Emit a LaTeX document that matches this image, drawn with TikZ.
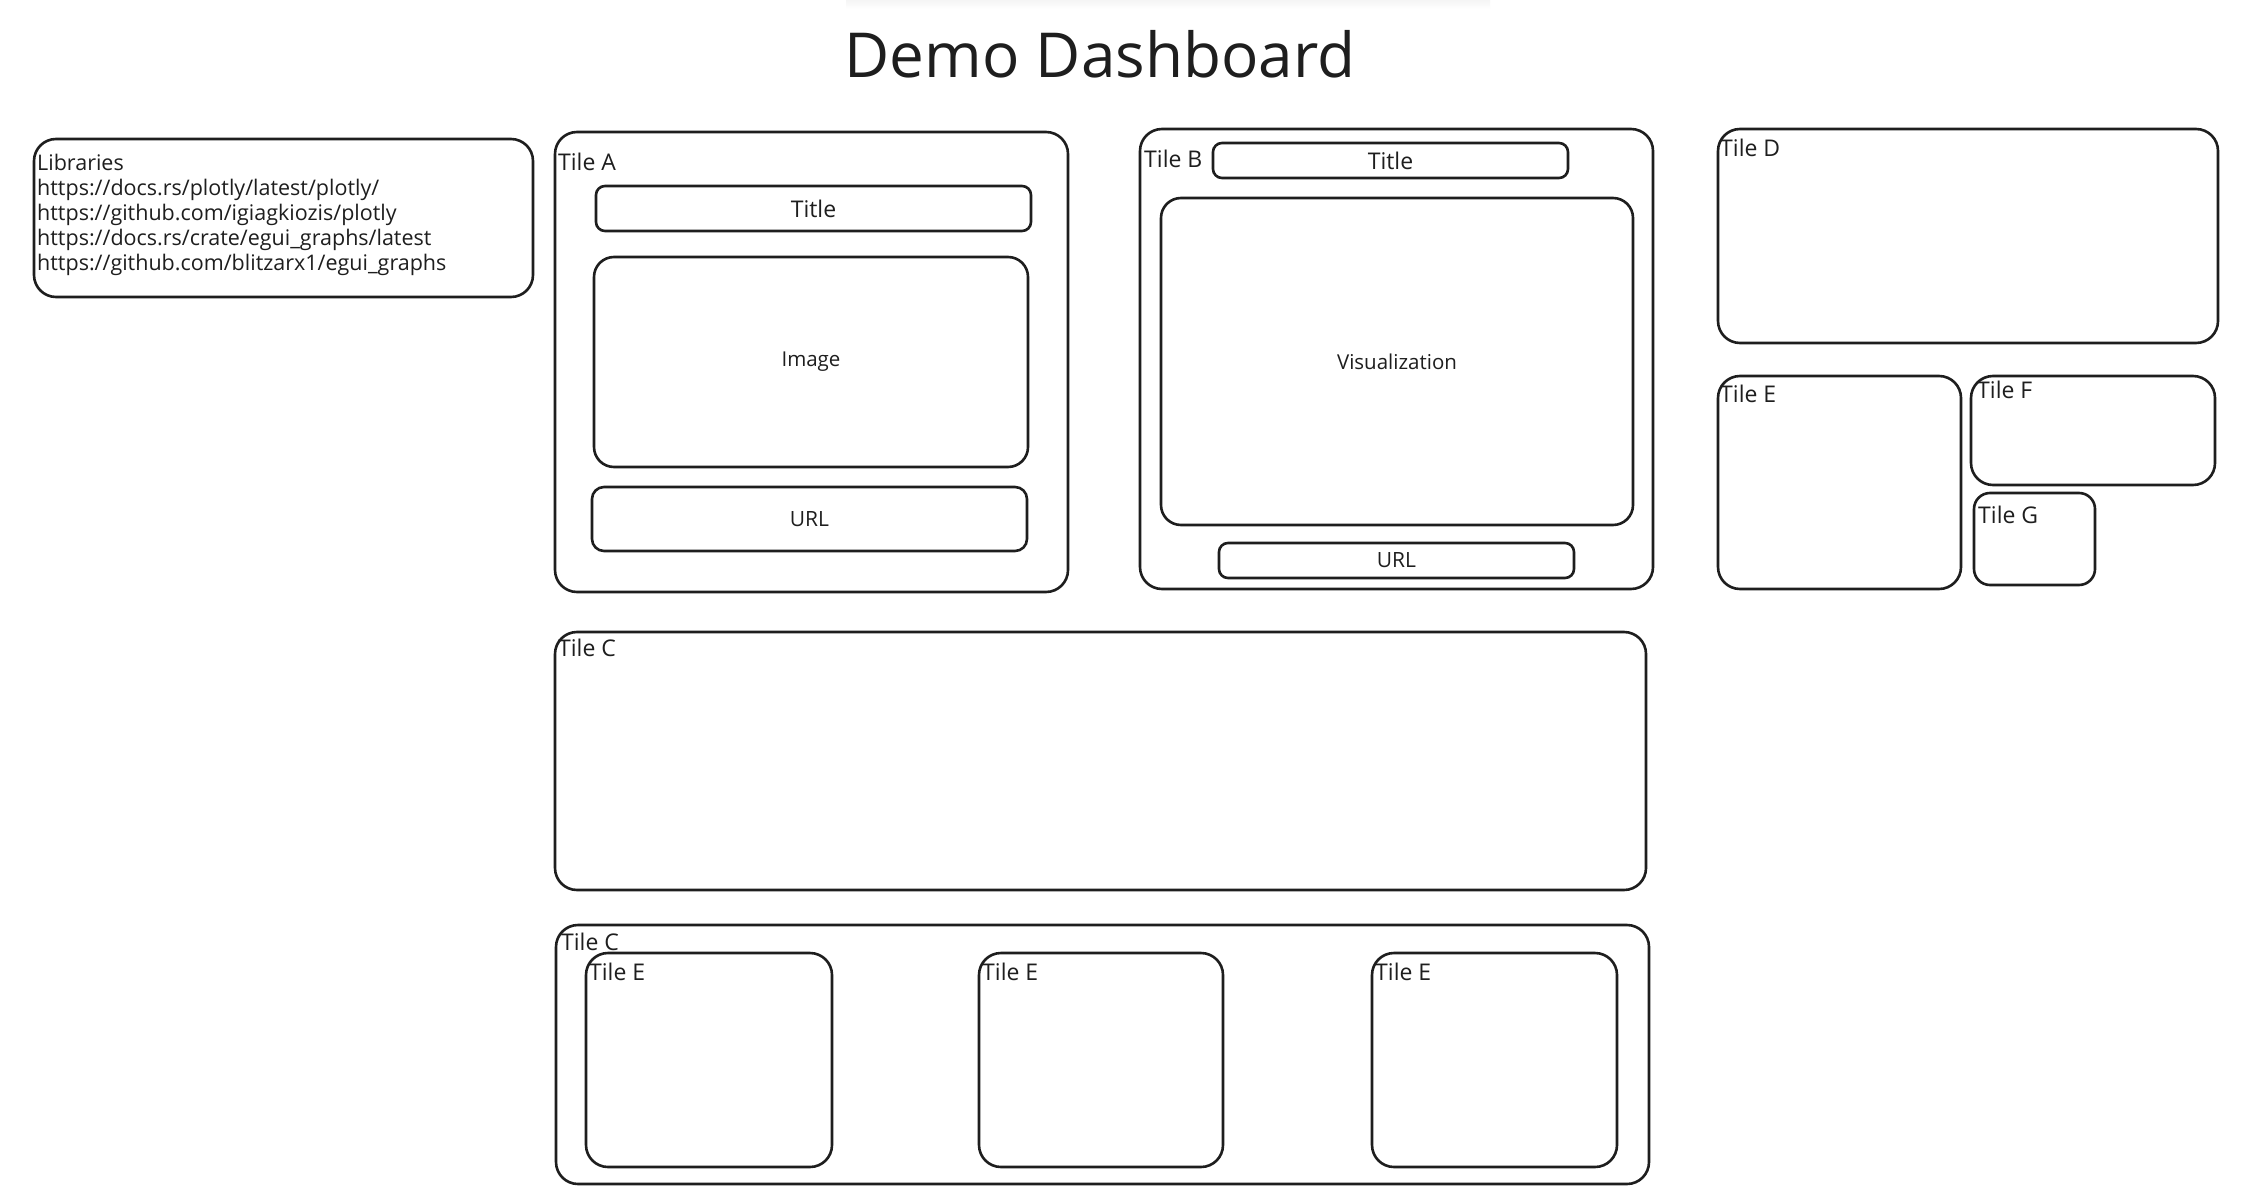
\documentclass[tikz,border=0pt]{standalone}
\usepackage{fontspec}
\setmainfont{Open Sans}
\definecolor{inkc}{HTML}{1E1E1E}
\begin{document}
\begin{tikzpicture}[x=1pt,y=-1pt,
  sz/.style 2 args={minimum width=#1pt, minimum height=#2pt},
  ink/.style={draw=inkc, line width=2.6pt, rectangle, inner sep=0pt, outer sep=0pt, anchor=north west},
  tile/.style={ink, rounded corners=22pt},
  bar/.style={ink, rounded corners=9pt, font=\fontsize{23}{26}\selectfont, text=inkc},
  panel/.style={ink, rounded corners=20pt, font=\fontsize{20.5}{24}\selectfont, text=inkc},
  lbl/.style={anchor=west, inner sep=0pt, font=\fontsize{23}{26}\selectfont, text=inkc}
]
% page
\fill[white] (0,0) rectangle (2248,1198);
\useasboundingbox (0,0) rectangle (2248,1198);
\shade[top color=black!4, bottom color=white] (846,0) rectangle (1490,9);

% heading
\node[font=\fontsize{62}{70}\selectfont, text=inkc, inner sep=0pt] (head) at (1100,54) {Demo Dashboard};

% library links
\node[tile, sz={499}{158}] (lib) at (34,139) {};
\node[anchor=north west, inner sep=0pt, align=left, text=inkc,
      font=\fontsize{21.5}{25}\selectfont] (libtxt) at (37,154)
  {Libraries\\
   https://docs.rs/plotly/latest/plotly/\\
   https://github.com/igiagkiozis/plotly\\
   https://docs.rs/crate/egui\_graphs/latest\\
   https://github.com/blitzarx1/egui\_graphs};

% Tile A
\node[tile, sz={513}{460}] (tA) at (555,132) {};
\node[lbl] (tAl) at (558,162) {Tile A};
\node[bar, sz={435}{45}] (aTitle) at (596,186) {Title};
\node[panel, sz={434}{210}] (aImg) at (594,257) {Image};
\node[bar, rounded corners=12pt, sz={435}{64}, font=\fontsize{21}{24}\selectfont] (aUrl) at (592,487) {URL};

% Tile B
\node[tile, sz={513}{460}] (tB) at (1140,129) {};
\node[lbl] (tBl) at (1144,159) {Tile B};
\node[bar, sz={355}{35}] (bTitle) at (1213,143) {Title};
\node[panel, sz={472}{327}] (bVis) at (1161,198) {Visualization};
\node[bar, sz={355}{35}, font=\fontsize{21}{24}\selectfont] (bUrl) at (1219,543) {URL};

% right column
\node[tile, sz={500}{214}] (tD) at (1718,129) {};
\node[lbl] (tDl) at (1720,148) {Tile D};
\node[tile, sz={243}{213}] (tE) at (1718,376) {};
\node[lbl] (tEl) at (1720,394) {Tile E};
\node[tile, sz={244}{109}] (tF) at (1971,376) {};
\node[lbl] (tFl) at (1977,390) {Tile F};
\node[tile, rounded corners=16pt, sz={121}{92}] (tG) at (1974,493) {};
\node[lbl] (tGl) at (1978,515) {Tile G};

% Tile C, full width
\node[tile, sz={1091}{258}] (tC) at (555,632) {};
\node[lbl] (tCl) at (558,648) {Tile C};

% Tile C with three E tiles inside
\node[tile, sz={1093}{259}] (tC2) at (556,925) {};
\node[lbl] (tC2l) at (561,942) {Tile C};
\node[tile, sz={246}{214}] (e1) at (586,953) {};
\node[lbl] (e1l) at (589,972) {Tile E};
\node[tile, sz={244}{214}] (e2) at (979,953) {};
\node[lbl] (e2l) at (982,972) {Tile E};
\node[tile, sz={245}{214}] (e3) at (1372,953) {};
\node[lbl] (e3l) at (1375,972) {Tile E};
\end{tikzpicture}
\end{document}
